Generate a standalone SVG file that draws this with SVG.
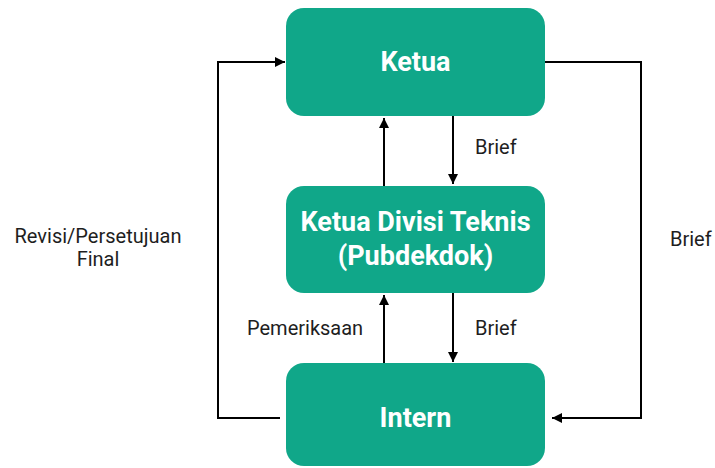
<svg xmlns="http://www.w3.org/2000/svg" width="715" height="468" viewBox="0 0 715 468">
<style>
.box{fill:#10a789}
.t{font-family:Roboto,"Liberation Sans",sans-serif;font-weight:bold;font-size:27px;fill:#fff;text-anchor:middle}
.l{font-family:Roboto,"Liberation Sans",sans-serif;font-size:20px;fill:#1e1e1e}
.c{fill:none;stroke:#000;stroke-width:2}
</style>
<defs>
<marker id="ah" viewBox="0 0 10 10" refX="10" refY="5" markerWidth="5" markerHeight="5" orient="auto" markerUnits="strokeWidth">
<path d="M0,0 L10,5 L0,10 z" fill="#000"/>
</marker>
</defs>
<rect width="715" height="468" fill="#fff"/>
<g id="connectors">
<path class="c" d="M280,418 H218 V62 H285" marker-end="url(#ah)"/>
<path class="c" d="M545,62 H641 V418 H552" marker-end="url(#ah)"/>
<path class="c" d="M384,186 V118" marker-end="url(#ah)"/>
<path class="c" d="M453,116 V184" marker-end="url(#ah)"/>
<path class="c" d="M384,363 V295" marker-end="url(#ah)"/>
<path class="c" d="M453,293 V362" marker-end="url(#ah)"/>
</g>
<g id="labels">
<text class="l" x="475" y="154">Brief</text>
<text class="l" x="475" y="335">Brief</text>
<text class="l" x="247" y="335">Pemeriksaan</text>
<text class="l" x="98" y="243" text-anchor="middle">Revisi/Persetujuan</text>
<text class="l" x="98" y="266" text-anchor="middle">Final</text>
<text class="l" x="670" y="246">Brief</text>
</g>
<g id="ketua">
<rect class="box" x="286" y="8" width="259" height="108" rx="18"/>
<text class="t" x="415.5" y="71">Ketua</text>
</g>
<g id="kadiv">
<rect class="box" x="286" y="186" width="259" height="107" rx="18"/>
<text class="t" x="415.5" y="231">Ketua Divisi Teknis</text>
<text class="t" x="415.5" y="265">(Pubdekdok)</text>
</g>
<g id="intern">
<rect class="box" x="286" y="363" width="259" height="103" rx="18"/>
<text class="t" x="415.5" y="427">Intern</text>
</g>
</svg>
